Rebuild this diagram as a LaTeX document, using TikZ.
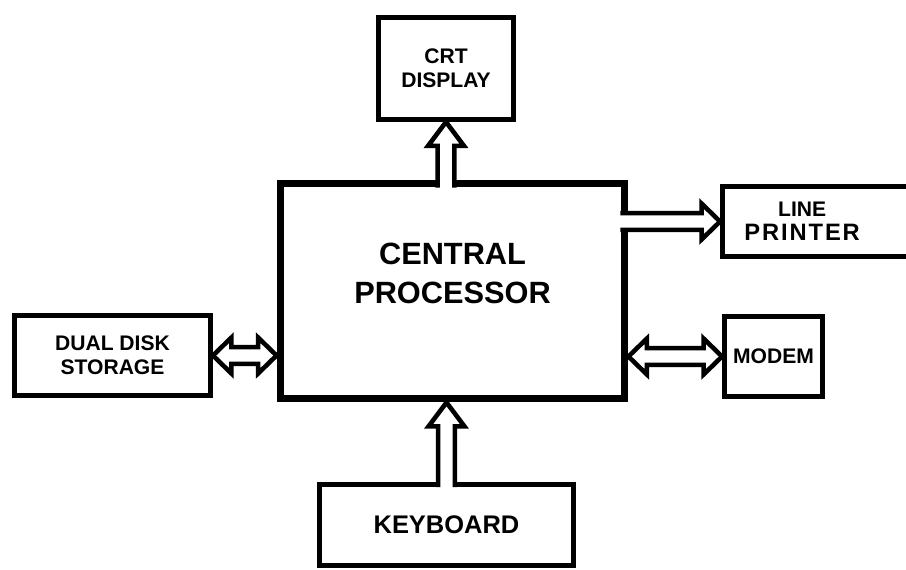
\documentclass[tikz,border=0pt]{standalone}
\usepackage{fontspec}
\setmainfont{Liberation Sans}
\usetikzlibrary{calc}

% bus arrows: shaft half width, head half width, head lengths
\newcommand{\bsw}{4.8pt}
\newcommand{\bhw}{10.2pt}
\newcommand{\bhlv}{13.6pt}
\newcommand{\bhlh}{10.5pt}
\newcommand{\busup}[2]{%
  \filldraw[bus] let \p1=(#1), \p2=(#2) in
    (\x2-\bsw,\y1) -- (\x2-\bsw,\y2-\bhlv) -- (\x2-\bhw,\y2-\bhlv) -- (\x2,\y2)
    -- (\x2+\bhw,\y2-\bhlv) -- (\x2+\bsw,\y2-\bhlv) -- (\x2+\bsw,\y1);}
\newcommand{\busright}[2]{%
  \filldraw[bus] let \p1=(#1), \p2=(#2) in
    (\x1,\y2+\bsw) -- (\x2-\bhlh,\y2+\bsw) -- (\x2-\bhlh,\y2+\bhw) -- (\x2,\y2)
    -- (\x2-\bhlh,\y2-\bhw) -- (\x2-\bhlh,\y2-\bsw) -- (\x1,\y2-\bsw);}
\newcommand{\busboth}[2]{%
  \filldraw[bus] let \p1=(#1), \p2=(#2) in
    (\x1,\y1) -- (\x1+\bhlh,\y1+\bhw) -- (\x1+\bhlh,\y1+\bsw) -- (\x2-\bhlh,\y1+\bsw)
    -- (\x2-\bhlh,\y1+\bhw) -- (\x2,\y1) -- (\x2-\bhlh,\y1-\bhw) -- (\x2-\bhlh,\y1-\bsw)
    -- (\x1+\bhlh,\y1-\bsw) -- (\x1+\bhlh,\y1-\bhw) -- cycle;}

\begin{document}
\begin{tikzpicture}[x=0.02cm, y=-0.02cm,
          lbl/.style={font=\bfseries\fontsize{12}{13.6}\selectfont, align=center},
          unit/.style={draw, line width=2.8pt, lbl},
          cpubox/.style={draw, line width=4.5pt},
          cpulbl/.style={font=\bfseries\fontsize{17.5}{22.7}\selectfont, align=center},
          bus/.style={draw=black, fill=white, line width=2.6pt}]
        \useasboundingbox (0,0) rectangle (906,569);
        \clip (0,0) rectangle (906,569);
        \node[cpubox, minimum width=6.88cm, minimum height=4.3cm,
              label={[cpulbl, yshift=10pt]center:CENTRAL\\PROCESSOR}] (cpu) at (452.5,291) {};
        \node[unit, minimum width=2.7cm, minimum height=2.04cm] (crt) at (446,68.5) {CRT\\DISPLAY};
        \node[unit, minimum width=4.5cm, minimum height=1.4cm,
              label={[lbl, xshift=-18.7pt]center:LINE\\{\fontsize{13.5}{13.6}\selectfont\addfontfeature{LetterSpace=8}PRINTER}}] (printer) at (835,221.5) {};
        \node[unit, minimum width=3.92cm, minimum height=1.6cm] (disk) at (112.5,355.5) {DUAL DISK\\STORAGE};
        \node[unit, minimum width=1.96cm, minimum height=1.6cm] (modem) at (773.5,356.5) {MODEM};
        \node[unit, minimum width=5.08cm, minimum height=1.62cm, font=\bfseries\fontsize{14.5}{16}\selectfont] (kbd) at (446.5,525) {KEYBOARD};
        \busup{$(crt.south |- cpu.north)+(0,8)$}{crt.south}
        \busup{$(kbd.north)+(0,5)$}{kbd.north |- cpu.south}
        \busright{$(cpu.east |- printer.west)+(-8,0)$}{printer.west}
        \busboth{disk.east}{cpu.west |- disk.east}
        \busboth{cpu.east |- modem.west}{modem.west}
      \end{tikzpicture}
\end{document}
